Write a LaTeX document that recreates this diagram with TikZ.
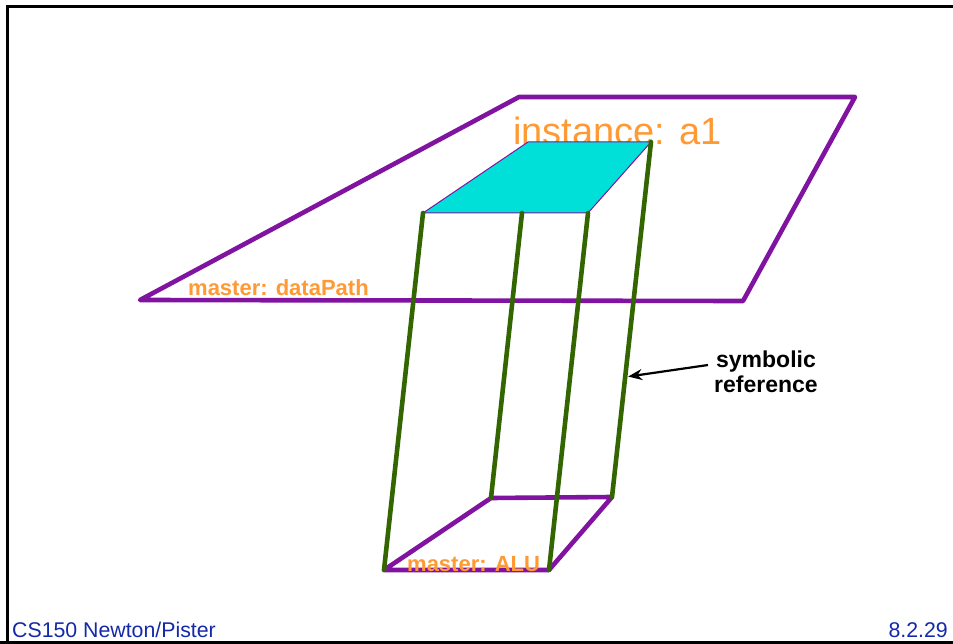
\documentclass[tikz,border=0pt]{standalone}
\usepackage{fontspec}
\setmainfont{Liberation Sans}
\usetikzlibrary{arrows.meta,calc}
\definecolor{plum}{RGB}{128,20,160}
\definecolor{leaf}{RGB}{51,102,0}
\definecolor{aqua}{RGB}{0,224,216}
\definecolor{tang}{RGB}{255,153,51}
\definecolor{navy2}{RGB}{20,40,170}
\tikzset{
  plane/.style={draw=plum, line width=4.6pt, line join=round, line cap=round},
  wire/.style={draw=leaf, line width=4.6pt, line cap=round},
  lbl/.style={inner sep=0pt, anchor=base west, text=tang, font=\bfseries\fontsize{22}{24}\selectfont},
}
\begin{document}
\begin{tikzpicture}[x=1pt,y=-1pt]
\useasboundingbox (0,0) rectangle (953,644);
% frame
\draw[line width=3pt] (7,644) -- (7,7) -- (953,7);
\draw[line width=3pt] (0,642) -- (953,642);
% coordinates
\coordinate (P1) at (140,300);
\coordinate (P2) at (519,97);
\coordinate (P3) at (855,97);
\coordinate (P4) at (743,301);
\coordinate (C1) at (423,213);
\coordinate (C2) at (528,142);
\coordinate (C3) at (651,142);
\coordinate (C4) at (588,213);
\coordinate (Cm) at (522,213);
\coordinate (B1) at (384,570);
\coordinate (B2) at (491,498);
\coordinate (B3) at (612,497);
\coordinate (B4) at (549,570);
% big plane
\draw[plane] (P1) -- (P2) -- (P3) -- (P4) -- cycle;
\node[lbl] (dp) at (188,296) {master: dataPath};
% instance label
\node[inner sep=0pt, anchor=base west, text=tang, font=\fontsize{38}{40}\selectfont] (inst) at (513,145) {instance: a1};
% cyan instance
\fill[aqua, draw=plum, line width=1pt] (C1) -- (C2) -- (C3) -- (C4) -- cycle;
% bottom master
\draw[plane] (B1) -- (B2) -- (B3) -- (B4) -- cycle;
\node[lbl] (alu) at (407,571) {master: ALU};
% green references
\draw[wire] (C1) -- (B1);
\draw[wire] (Cm) -- (B2);
\draw[wire] (C4) -- (B4);
\draw[wire] (C3) -- (B3);
% symbolic reference
\node[align=center, inner sep=0pt, font=\bfseries\fontsize{23}{25}\selectfont] (sym) at (766,372) {symbolic\\reference};
\coordinate (tip) at ($(C3)!0.662!(B3)$);
\coordinate (as) at (708,365);
\draw[line width=2.2pt, shorten >=3pt, -{Stealth[length=14pt,width=11pt]}] (as) -- (tip);
% footer
\node[inner sep=0pt, anchor=base west, text=navy2, font=\fontsize{21.3}{24}\selectfont] (foot) at (12,637) {CS150 Newton/Pister};
\node[inner sep=0pt, anchor=base east, text=navy2, font=\fontsize{21.3}{24}\selectfont] (page) at (948,637) {8.2.29};
\end{tikzpicture}
\end{document}
